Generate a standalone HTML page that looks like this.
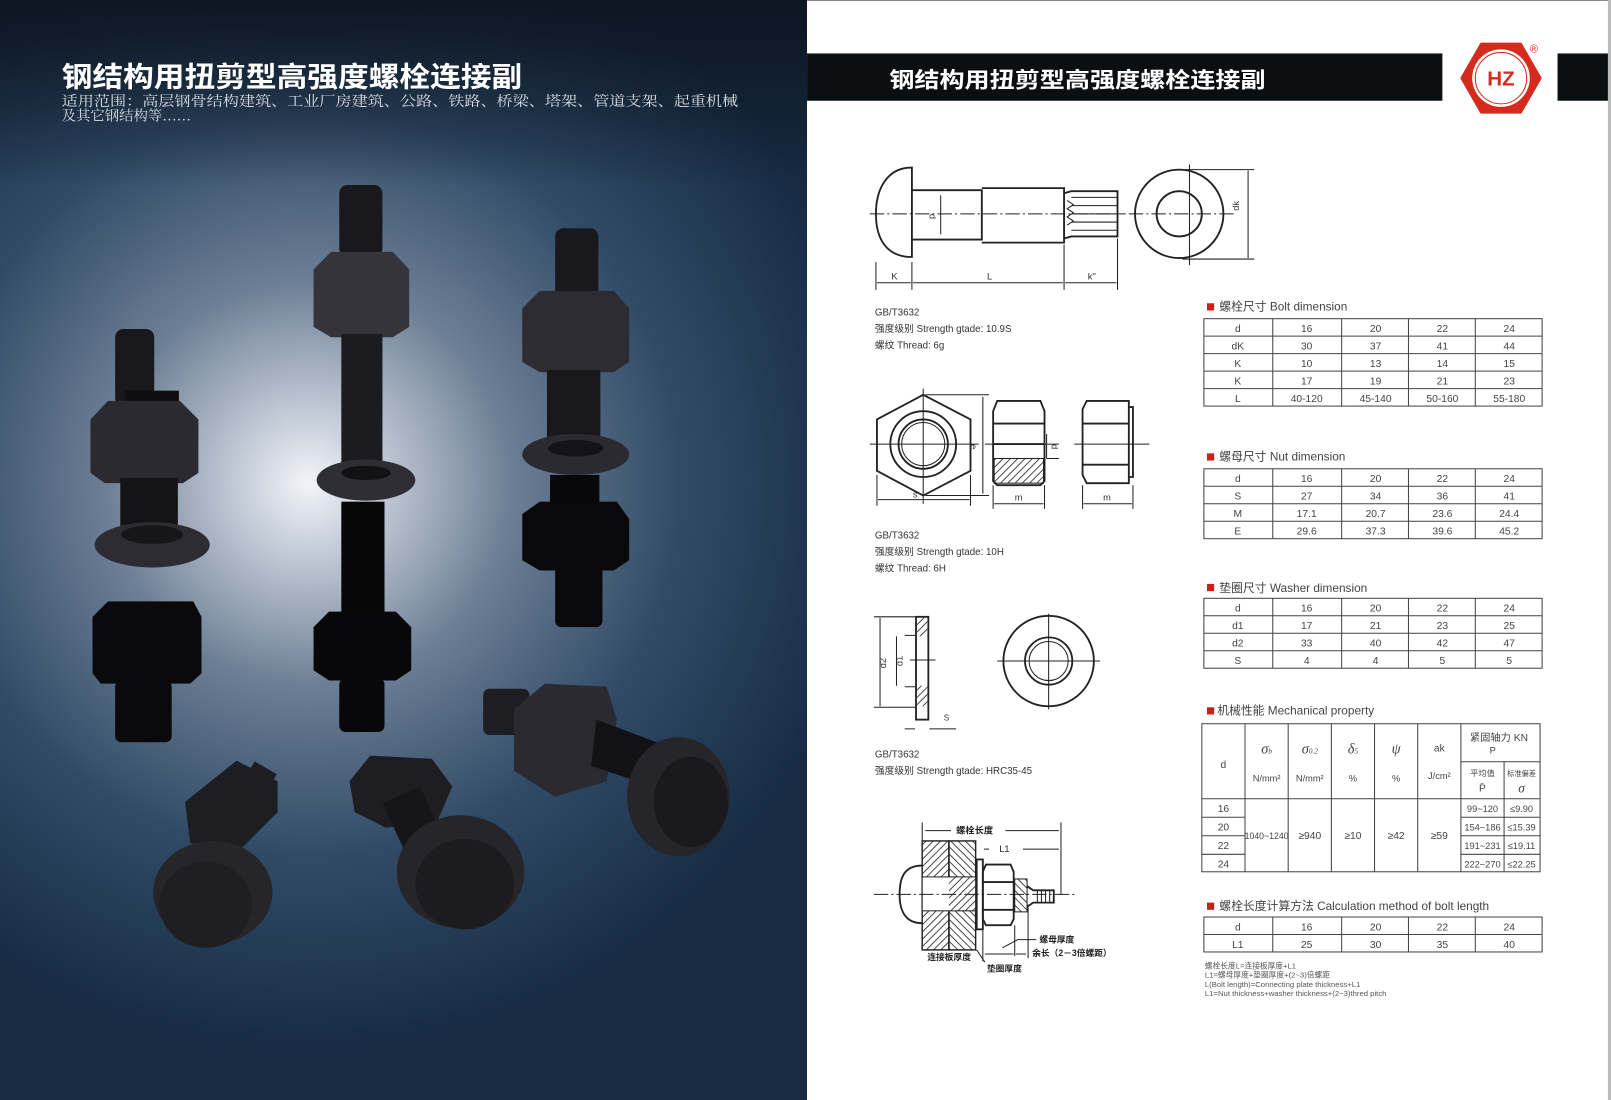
<!DOCTYPE html>
<html><head><meta charset="utf-8">
<style>
html,body{margin:0;padding:0;background:#fff;}
svg{display:block;}
text{font-family:"Liberation Sans","Noto Sans CJK SC",sans-serif;}
.t{font-size:10px;fill:#444;text-anchor:middle;}
.h{font-size:11.5px;fill:#444;}
.s{font-size:9.5px;fill:#333;}
.dl{stroke:#222;stroke-width:1;fill:none;}
.dk{stroke:#222;stroke-width:1.8;fill:none;}
</style></head><body>
<svg width="1611" height="1100" viewBox="0 0 1567 1070" preserveAspectRatio="none" xmlns="http://www.w3.org/2000/svg">
<defs>
<radialGradient id="glow" cx="300" cy="470" r="560" gradientUnits="userSpaceOnUse">
<stop offset="0" stop-color="#f2f4f8"/>
<stop offset="0.12" stop-color="#c4ccd8"/>
<stop offset="0.35" stop-color="#6d7f95"/>
<stop offset="0.65" stop-color="#304a66"/>
<stop offset="1" stop-color="#162a42"/>
</radialGradient>
<linearGradient id="topdark" x1="0" y1="0" x2="0" y2="1">
<stop offset="0" stop-color="#0c1420" stop-opacity="0.95"/>
<stop offset="1" stop-color="#0c1420" stop-opacity="0"/>
</linearGradient>
<pattern id="hatch" width="5" height="5" patternUnits="userSpaceOnUse" patternTransform="rotate(45)">
<line x1="0" y1="0" x2="0" y2="5" stroke="#222" stroke-width="1.6"/>
</pattern>
<pattern id="hatch2" width="5" height="5" patternUnits="userSpaceOnUse" patternTransform="rotate(-45)">
<line x1="0" y1="0" x2="0" y2="5" stroke="#222" stroke-width="1.6"/>
</pattern>
</defs>

<!-- LEFT PAGE -->
<rect x="0" y="0" width="785" height="1070" fill="url(#glow)"/>
<rect x="0" y="0" width="785" height="180" fill="url(#topdark)"/>

<text x="60" y="84" font-size="27" font-weight="bold" fill="#fff" textLength="448" lengthAdjust="spacingAndGlyphs">钢结构用扭剪型高强度螺栓连接副</text>
<text x="60" y="103" font-size="14" fill="#d8dde4" textLength="658" lengthAdjust="spacingAndGlyphs" style="font-family:'Liberation Serif','Noto Serif CJK SC',serif">适用范围：高层钢骨结构建筑、工业厂房建筑、公路、铁路、桥梁、塔架、管道支架、起重机械</text>
<text x="60" y="117" font-size="14" fill="#d8dde4" style="font-family:'Liberation Serif','Noto Serif CJK SC',serif">及其它钢结构等……</text>

<g fill="#19191d">
<!-- bolt 1 -->
<rect x="112" y="320" width="38" height="75" rx="8"/>
<rect x="122" y="380" width="52" height="18" fill="#0e0e10"/>
<polygon points="88,408 105,390 175,390 193,408 193,460 178,470 102,470 88,460" fill="#2a2a30"/>
<rect x="117" y="465" width="56" height="50" fill="#141416"/>
<ellipse cx="148" cy="530" rx="56" ry="22" fill="#2c2c32"/>
<ellipse cx="148" cy="520" rx="30" ry="9" fill="#161618"/>
<polygon points="90,600 105,585 188,585 196,600 196,655 185,665 98,665 90,655" fill="#0a0a0c"/>
<rect x="112" y="662" width="55" height="60" rx="6" fill="#0a0a0c"/>
<!-- bolt 2 -->
<rect x="330" y="180" width="42" height="70" rx="8"/>
<polygon points="305,262 322,245 382,245 398,262 398,318 382,328 322,328 305,318" fill="#34343a"/>
<rect x="332" y="325" width="40" height="135" fill="#1c1c20"/>
<ellipse cx="356" cy="467" rx="48" ry="20" fill="#2e2e34"/>
<ellipse cx="356" cy="460" rx="24" ry="7" fill="#121214"/>
<rect x="332" y="488" width="42" height="110" fill="#070708"/>
<polygon points="305,610 320,595 385,595 400,610 400,652 385,662 320,662 305,652" fill="#08080a"/>
<rect x="330" y="660" width="44" height="52" rx="6" fill="#08080a"/>
<!-- bolt 3 -->
<rect x="540" y="222" width="42" height="70" rx="8"/>
<polygon points="508,300 525,283 597,283 612,300 612,352 597,362 525,362 508,352" fill="#2c2c32"/>
<rect x="532" y="360" width="52" height="70" fill="#18181c"/>
<ellipse cx="560" cy="442" rx="52" ry="20" fill="#2a2a30"/>
<ellipse cx="560" cy="436" rx="27" ry="8" fill="#141416"/>
<rect x="535" y="462" width="48" height="40" fill="#08080a"/>
<polygon points="508,500 525,488 600,488 612,505 612,545 597,555 525,555 508,545" fill="#09090b"/>
<rect x="540" y="550" width="46" height="60" rx="6" fill="#09090b"/>
<!-- lower bolt A -->
<g fill="#1e1e22">
<polygon points="180,780 230,740 270,760 270,790 230,830 185,820"/>
<rect x="240" y="745" width="25" height="25" transform="rotate(30 252 757)"/>
<ellipse cx="207" cy="868" rx="58" ry="50" fill="#262629"/>
<ellipse cx="200" cy="880" rx="45" ry="42" fill="#1f1f23"/>
</g>
<!-- lower bolt B -->
<g fill="#1e1e22">
<polygon points="340,760 360,735 420,738 440,765 425,800 375,805 345,790"/>
<rect x="385" y="770" width="40" height="70" transform="rotate(-25 405 805)" fill="#16161a"/>
<ellipse cx="448" cy="848" rx="62" ry="55" fill="#26262a"/>
<ellipse cx="452" cy="860" rx="48" ry="44" fill="#1c1c20"/>
</g>
<!-- lower bolt C -->
<g fill="#1e1e22">
<rect x="470" y="670" width="45" height="45" rx="6"/>
<polygon points="500,690 530,665 590,668 600,700 590,760 540,775 500,750" fill="#2a2a30"/>
<polygon points="580,700 660,730 650,770 575,745" fill="#121214"/>
<ellipse cx="660" cy="775" rx="50" ry="58" fill="#26262a"/>
<ellipse cx="672" cy="780" rx="36" ry="44" fill="#1a1a1e"/>
</g>
</g>

<!-- RIGHT PAGE -->
<rect x="785" y="0" width="779" height="1070" fill="#fff"/>
<rect x="785" y="0" width="779" height="1" fill="#888"/>
<rect x="1564" y="0" width="3" height="1070" fill="#bbb"/>
<rect x="785" y="52" width="618" height="46" fill="#0c0f12"/>
<text x="865" y="85" font-size="21" font-weight="bold" fill="#fff" textLength="366" lengthAdjust="spacingAndGlyphs">钢结构用扭剪型高强度螺栓连接副</text>
<rect x="1515" y="52" width="49" height="46" fill="#0c0f12"/>
<polygon points="1422,76 1441,43 1479,43 1498,76 1479,109 1441,109" fill="#d42b1e" stroke="#d42b1e" stroke-width="3" stroke-linejoin="round"/>
<circle cx="1460" cy="76" r="28" fill="#fff"/>
<circle cx="1460" cy="76" r="25" fill="none" stroke="#d42b1e" stroke-width="1"/>
<text x="1460" y="83" font-size="20" font-weight="bold" fill="#d42b1e" text-anchor="middle">HZ</text>
<text x="1492" y="51" font-size="11" fill="#d42b1e" text-anchor="middle">®</text>

<!-- bolt drawing -->
<path class="dk" d="M887,163 C862,163 852,185 852,208 C852,232 862,250 887,250 Z"/>
<path class="dk" d="M887,185 H955 V233 H887 M955,183 H1035 V236 H955 M1035,188 L1042,186 H1087 V230 H1042 L1035,232"/>
<path class="dl" d="M1042,192 H1087 M1042,200 H1087 M1042,208 H1087 M1042,216 H1087 M1042,224 H1087 M1038,195 l6,4 l-6,4 l6,4 l-6,4 l6,4 l-6,4"/>
<line class="dl" x1="846" y1="208" x2="1095" y2="208" stroke-dasharray="14,3,2,3"/>
<line class="dl" x1="915" y1="190" x2="915" y2="228"/>
<text x="904" y="208" font-size="9" fill="#333" transform="rotate(90 904 208)">d</text>
<path class="dl" d="M852,255 V282 M887,255 V282 M1035,238 V282 M1087,232 V282 M853,275 H886 M888,275 H1034 M1036,275 H1086"/>
<text x="867" y="272" font-size="9" fill="#333">K</text>
<text x="960" y="272" font-size="9" fill="#333">L</text>
<text x="1058" y="272" font-size="9" fill="#333">k''</text>
<circle class="dk" cx="1147" cy="208" r="43"/>
<circle class="dk" cx="1147" cy="208" r="22"/>
<line class="dl" x1="1157" y1="160" x2="1157" y2="258"/>
<line class="dl" x1="1098" y1="208" x2="1200" y2="208" stroke-dasharray="14,3,2,3"/>
<path class="dl" d="M1150,165 H1220 M1150,252 H1220 M1214,166 V251"/>
<text x="1205" y="205" font-size="9" fill="#333" transform="rotate(-90 1205 205)">dk</text>
<text x="851" y="307" class="s">GB/T3632</text>
<text x="851" y="323" class="s">强度级别 Strength gtade: 10.9S</text>
<text x="851" y="339" class="s">螺纹 Thread: 6g</text>

<!-- nut drawings -->
<polygon class="dk" points="853,408 898,384 944,408 944,458 898,482 853,458"/>
<circle class="dk" cx="898" cy="432" r="32"/>
<circle class="dk" cx="898" cy="432" r="24"/>
<circle class="dl" cx="898" cy="432" r="21"/>
<path class="dl" d="M846,432 H952 M898,378 V490 M900,384 H962 M900,482 H962 M956,386 V480 M853,462 V492 M944,462 V492 M854,486 H943"/>
<text x="948" y="436" font-size="9" fill="#333" transform="rotate(90 948 432)">e</text>
<text x="888" y="484" font-size="9" fill="#333">s</text>
<path class="dk" d="M970,390 H1012 L1016,400 V468 L1012,472 H970 L966,468 V400 Z M966,412 H1016 M966,432 H1016"/>
<rect x="967" y="446" width="48" height="24" fill="url(#hatch)" stroke="#222"/>
<path class="dl" d="M958,432 H1030 M1018,422 V446 M1018,446 H1030 M966,472 V495 M1016,472 V495 M967,490 H1015"/>
<text x="1023" y="432" font-size="9" fill="#333" transform="rotate(90 1023 432)">d</text>
<text x="987" y="487" font-size="9" fill="#333">m</text>
<path class="dk" d="M1057,390 H1098 V470 H1057 L1053,462 V398 Z M1053,412 H1098 M1053,452 H1098 M1098,396 H1102 V464 H1098"/>
<path class="dl" d="M1045,432 H1118 M1053,472 V495 M1102,472 V495 M1054,490 H1101"/>
<text x="1073" y="487" font-size="9" fill="#333">m</text>
<text x="851" y="524" class="s">GB/T3632</text>
<text x="851" y="540" class="s">强度级别 Strength gtade: 10H</text>
<text x="851" y="556" class="s">螺纹 Thread: 6H</text>

<!-- washer drawings -->
<rect class="dk" x="891" y="600" width="12" height="100"/>
<rect x="892" y="601" width="10" height="18" fill="url(#hatch)"/>
<rect x="892" y="667" width="10" height="20" fill="url(#hatch)"/>
<path class="dl" d="M850,600 H890 M880,618 H890 M880,668 H890 M850,688 H890 M856,601 V687 M872,619 V667 M885,642 H910 M880,709 H890 M904,709 H930"/>
<text x="862" y="650" font-size="9" fill="#333" transform="rotate(-90 862 650)">d2</text>
<text x="878" y="648" font-size="9" fill="#333" transform="rotate(-90 878 648)">d1</text>
<text x="918" y="701" font-size="8" fill="#333">S</text>
<circle class="dk" cx="1020" cy="643" r="44"/>
<circle class="dk" cx="1020" cy="643" r="23"/>
<circle class="dl" cx="1020" cy="643" r="19"/>
<path class="dl" d="M970,643 H1070 M1020,597 V690"/>
<text x="851" y="737" class="s">GB/T3632</text>
<text x="851" y="753" class="s">强度级别 Strength gtade: HRC35-45</text>

<!-- assembly -->
<rect x="897" y="818" width="26" height="106" fill="url(#hatch)" stroke="#222" stroke-width="1.4"/>
<rect x="923" y="818" width="26" height="106" fill="url(#hatch2)" stroke="#222" stroke-width="1.4"/>
<rect x="897" y="853" width="52" height="33" fill="#fff" stroke="#222"/>
<rect x="923" y="853" width="26" height="33" fill="url(#hatch)"/>
<path class="dk" d="M897,842 C878,842 875,856 875,870 C875,885 880,898 897,898"/>
<rect class="dk" x="950" y="836" width="6" height="68"/>
<path class="dk" d="M959,841 H983 L986,848 V894 L983,900 H959 L956,894 V848 Z M956,858 H986 M956,885 H986"/>
<rect x="987" y="855" width="12" height="32" fill="url(#hatch2)" stroke="#222"/>
<path class="dk" d="M999,862 L1005,866 H1025 V878 H1005 L999,882"/>
<path class="dl" d="M1009,866 V878 M1013,866 V878 M1017,866 V878 M1021,866 V878"/>
<line class="dl" x1="850" y1="870" x2="1045" y2="870" stroke-dasharray="14,3,2,3"/>
<path class="dl" d="M897,800 V818 M1032,800 V870 M900,808 H925 M978,808 H1030 M957,826 H962 M995,826 H1030 M956,905 V935 M987,900 V930 M1000,880 V932 M958,928 H986 M988,928 H998 M1005,928 H1012 M975,922 L990,914 H1008"/>
<text x="930" y="811" font-size="9" font-weight="bold" fill="#222">螺栓长度</text>
<text x="972" y="829" font-size="9" fill="#222">L1</text>
<text x="1011" y="917" font-size="8.5" font-weight="bold" fill="#222">螺母厚度</text>
<text x="1004" y="930" font-size="8.5" font-weight="bold" fill="#222">余长（2－3倍螺距）</text>
<text x="902" y="934" font-size="8.5" font-weight="bold" fill="#222">连接板厚度</text>
<text x="960" y="945" font-size="8.5" font-weight="bold" fill="#222">垫圈厚度</text>
<line class="dl" x1="950" y1="924" x2="958" y2="936"/>

<!-- TABLES -->
<g fill="none" stroke="#444" stroke-width="1">
<!-- bolt -->
<rect x="1171" y="310" width="329" height="85"/>
<path d="M1171,327 H1500 M1171,344 H1500 M1171,361 H1500 M1171,378 H1500 M1238,310 V395 M1305,310 V395 M1370,310 V395 M1435,310 V395"/>
<!-- nut -->
<rect x="1171" y="456" width="329" height="68"/>
<path d="M1171,473 H1500 M1171,490 H1500 M1171,507 H1500 M1238,456 V524 M1305,456 V524 M1370,456 V524 M1435,456 V524"/>
<!-- washer -->
<rect x="1171" y="582" width="329" height="68"/>
<path d="M1171,599 H1500 M1171,616 H1500 M1171,633 H1500 M1238,582 V650 M1305,582 V650 M1370,582 V650 M1435,582 V650"/>
<!-- mech -->
<rect x="1169" y="704" width="329" height="144"/>
<path d="M1169,777 H1498 M1211,704 V848 M1253,704 V848 M1295,704 V848 M1337,704 V848 M1379,704 V848 M1421,704 V848 M1463,741 V848 M1421,741 H1498 M1169,795 H1211 M1169,813 H1211 M1169,831 H1211 M1421,795 H1498 M1421,813 H1498 M1421,831 H1498"/>
<!-- calc -->
<rect x="1171" y="892" width="329" height="34"/>
<path d="M1171,909 H1500 M1238,892 V926 M1305,892 V926 M1370,892 V926 M1435,892 V926"/>
</g>
<g fill="#c8201a">
<rect x="1174" y="295" width="7" height="7"/>
<rect x="1174" y="441" width="7" height="7"/>
<rect x="1174" y="568" width="7" height="7"/>
<rect x="1174" y="688" width="7" height="7"/>
<rect x="1174" y="878" width="7" height="7"/>
</g>
<text x="1186" y="302" class="h">螺栓尺寸 Bolt dimension</text>
<text x="1186" y="448" class="h">螺母尺寸 Nut dimension</text>
<text x="1186" y="576" class="h">垫圈尺寸 Washer dimension</text>
<text x="1184" y="695" class="h">机械性能 Mechanical property</text>
<text x="1186" y="885" class="h">螺栓长度计算方法 Calculation method of bolt length</text>

<g class="t">
<text x="1204" y="323" class="t">d</text><text x="1271" y="323" class="t">16</text><text x="1338" y="323" class="t">20</text><text x="1403" y="323" class="t">22</text><text x="1468" y="323" class="t">24</text>
<text x="1204" y="340" class="t">dK</text><text x="1271" y="340" class="t">30</text><text x="1338" y="340" class="t">37</text><text x="1403" y="340" class="t">41</text><text x="1468" y="340" class="t">44</text>
<text x="1204" y="357" class="t">K</text><text x="1271" y="357" class="t">10</text><text x="1338" y="357" class="t">13</text><text x="1403" y="357" class="t">14</text><text x="1468" y="357" class="t">15</text>
<text x="1204" y="374" class="t">K</text><text x="1271" y="374" class="t">17</text><text x="1338" y="374" class="t">19</text><text x="1403" y="374" class="t">21</text><text x="1468" y="374" class="t">23</text>
<text x="1204" y="391" class="t">L</text><text x="1271" y="391" class="t">40-120</text><text x="1338" y="391" class="t">45-140</text><text x="1403" y="391" class="t">50-160</text><text x="1468" y="391" class="t">55-180</text>

<text x="1204" y="469" class="t">d</text><text x="1271" y="469" class="t">16</text><text x="1338" y="469" class="t">20</text><text x="1403" y="469" class="t">22</text><text x="1468" y="469" class="t">24</text>
<text x="1204" y="486" class="t">S</text><text x="1271" y="486" class="t">27</text><text x="1338" y="486" class="t">34</text><text x="1403" y="486" class="t">36</text><text x="1468" y="486" class="t">41</text>
<text x="1204" y="503" class="t">M</text><text x="1271" y="503" class="t">17.1</text><text x="1338" y="503" class="t">20.7</text><text x="1403" y="503" class="t">23.6</text><text x="1468" y="503" class="t">24.4</text>
<text x="1204" y="520" class="t">E</text><text x="1271" y="520" class="t">29.6</text><text x="1338" y="520" class="t">37.3</text><text x="1403" y="520" class="t">39.6</text><text x="1468" y="520" class="t">45.2</text>

<text x="1204" y="595" class="t">d</text><text x="1271" y="595" class="t">16</text><text x="1338" y="595" class="t">20</text><text x="1403" y="595" class="t">22</text><text x="1468" y="595" class="t">24</text>
<text x="1204" y="612" class="t">d1</text><text x="1271" y="612" class="t">17</text><text x="1338" y="612" class="t">21</text><text x="1403" y="612" class="t">23</text><text x="1468" y="612" class="t">25</text>
<text x="1204" y="629" class="t">d2</text><text x="1271" y="629" class="t">33</text><text x="1338" y="629" class="t">40</text><text x="1403" y="629" class="t">42</text><text x="1468" y="629" class="t">47</text>
<text x="1204" y="646" class="t">S</text><text x="1271" y="646" class="t">4</text><text x="1338" y="646" class="t">4</text><text x="1403" y="646" class="t">5</text><text x="1468" y="646" class="t">5</text>

<text x="1190" y="747" class="t">d</text>
<text x="1232" y="733" class="t" style="font-size:14px;font-style:italic;font-family:'Liberation Serif',serif">σ<tspan font-size="7">b</tspan></text>
<text x="1274" y="733" class="t" style="font-size:14px;font-style:italic;font-family:'Liberation Serif',serif">σ<tspan font-size="7">0.2</tspan></text>
<text x="1316" y="733" class="t" style="font-size:14px;font-style:italic;font-family:'Liberation Serif',serif">δ<tspan font-size="7">5</tspan></text>
<text x="1358" y="733" class="t" style="font-size:14px;font-style:italic;font-family:'Liberation Serif',serif">ψ</text>
<text x="1400" y="731" class="t">ak</text>
<text x="1232" y="760" class="t" style="font-size:9px">N/mm²</text>
<text x="1274" y="760" class="t" style="font-size:9px">N/mm²</text>
<text x="1316" y="760" class="t" style="font-size:9px">%</text>
<text x="1358" y="760" class="t" style="font-size:9px">%</text>
<text x="1400" y="758" class="t" style="font-size:9px">J/cm²</text>
<text x="1458" y="721" class="t" style="font-size:10px">紧固轴力 KN</text>
<text x="1452" y="733" class="t" style="font-size:9px">P</text>
<text x="1442" y="755" class="t" style="font-size:8px">平均值</text>
<text x="1442" y="770" class="t" style="font-size:10px">P̄</text>
<text x="1480" y="755" class="t" style="font-size:7px">标准偏差</text>
<text x="1480" y="771" class="t" style="font-size:13px;font-style:italic;font-family:'Liberation Serif',serif">σ</text>
<text x="1190" y="790" class="t">16</text><text x="1190" y="808" class="t">20</text><text x="1190" y="826" class="t">22</text><text x="1190" y="844" class="t">24</text>
<text x="1232" y="816" class="t" style="font-size:8.5px">1040~1240</text>
<text x="1274" y="816" class="t">≥940</text>
<text x="1316" y="816" class="t">≥10</text>
<text x="1358" y="816" class="t">≥42</text>
<text x="1400" y="816" class="t">≥59</text>
<text x="1442" y="790" class="t" style="font-size:9px">99~120</text><text x="1480" y="790" class="t" style="font-size:9px">≤9.90</text>
<text x="1442" y="808" class="t" style="font-size:9px">154~186</text><text x="1480" y="808" class="t" style="font-size:9px">≤15.39</text>
<text x="1442" y="826" class="t" style="font-size:9px">191~231</text><text x="1480" y="826" class="t" style="font-size:9px">≤19.11</text>
<text x="1442" y="844" class="t" style="font-size:9px">222~270</text><text x="1480" y="844" class="t" style="font-size:9px">≤22.25</text>

<text x="1204" y="905" class="t">d</text><text x="1271" y="905" class="t">16</text><text x="1338" y="905" class="t">20</text><text x="1403" y="905" class="t">22</text><text x="1468" y="905" class="t">24</text>
<text x="1204" y="922" class="t">L1</text><text x="1271" y="922" class="t">25</text><text x="1338" y="922" class="t">30</text><text x="1403" y="922" class="t">35</text><text x="1468" y="922" class="t">40</text>
</g>
<g font-size="7.5" fill="#555">
<text x="1172" y="942">螺栓长度L=连接板厚度+L1</text>
<text x="1172" y="951">L1=螺母厚度+垫圈厚度+(2~3)倍螺距</text>
<text x="1172" y="960">L(Bolt length)=Connecting plate thickness+L1</text>
<text x="1172" y="969">L1=Nut thickness+washer thickness+(2~3)thred pitch</text>
</g>
</svg>
</body></html>
